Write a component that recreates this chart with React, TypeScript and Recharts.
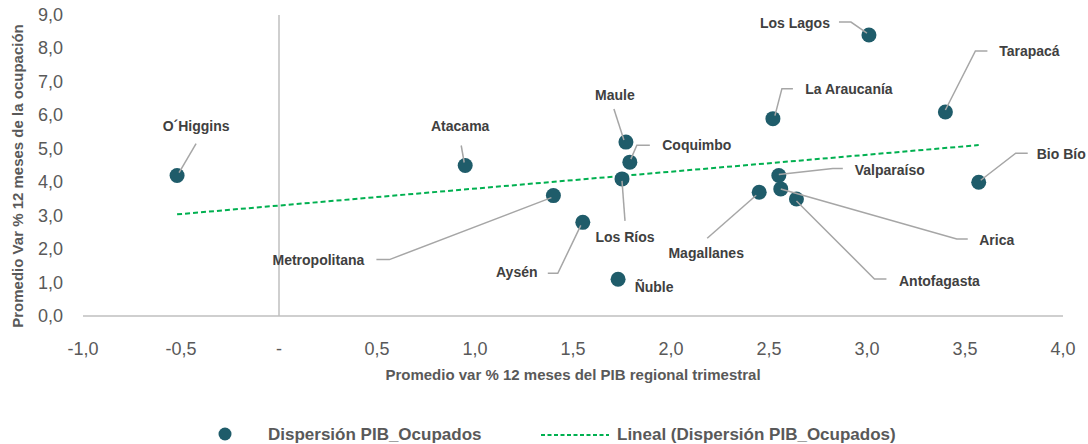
import React from 'react';
import {
  ScatterChart,
  Scatter,
  XAxis,
  YAxis,
  ReferenceLine
} from 'recharts';

// regions and their averages (x: PIB regional, y: ocupación)
const REGIONS = [
  'O´Higgins',
  'Atacama',
  'Metropolitana',
  'Aysén',
  'Maule',
  'Coquimbo',
  'Los Ríos',
  'Ñuble',
  'La Araucanía',
  'Los Lagos',
  'Tarapacá',
  'Bio Bío',
  'Valparaíso',
  'Magallanes',
  'Arica',
  'Antofagasta'
];
const PIB = [-0.52, 0.95, 1.4, 1.55, 1.77, 1.79, 1.75, 1.73, 2.52, 3.01, 3.4, 3.57, 2.55, 2.45, 2.56, 2.64];
const OCUPADOS = [4.2, 4.5, 3.6, 2.8, 5.2, 4.6, 4.1, 1.1, 5.9, 8.4, 6.1, 4.0, 4.2, 3.7, 3.8, 3.5];

const TREND_X = [-0.52, 3.57];
const TREND_Y = [3.04, 5.11];

const X_TICKS = [-1, -0.5, 0, 0.5, 1, 1.5, 2, 2.5, 3, 3.5, 4];
const Y_TICKS = [0, 1, 2, 3, 4, 5, 6, 7, 8, 9];

// label placement relative to the marker, like Excel's moved data labels
const LABEL_LAYOUT: Record<string, { dx: number; dy: number; path: number[][]; anchor?: string }> = {
  'O´Higgins': { dx: 19, dy: -50, path: [[19, -32], [2, -3]] },
  'Atacama': { dx: -5, dy: -40, path: [[-4, -20], [-1, -3]] },
  'Metropolitana': { dx: -235, dy: 64, path: [[-177, 64], [-164, 64], [-2, 2]] },
  'Aysén': { dx: -66, dy: 50, path: [[-35, 51], [-25, 51], [-2, 3]] },
  'Maule': { dx: -11, dy: -47, path: [[-12, -33], [-2, -2]] },
  'Coquimbo': { dx: 67, dy: -17, path: [[20, -17], [7, -17], [1, -3]] },
  'Los Ríos': { dx: 3, dy: 58, path: [[3, 42], [0, 2]] },
  'Ñuble': { dx: 36, dy: 8, path: [] },
  'La Araucanía': { dx: 76, dy: -30, path: [[20, -30], [9, -30], [2, -3]] },
  'Los Lagos': { dx: -74, dy: -12, path: [[-30, -13], [-18, -13], [-2, -2]] },
  'Tarapacá': { dx: 84, dy: -61, path: [[42, -61], [30, -61], [0, -2]] },
  'Bio Bío': { dx: 107, dy: -28, path: [[49, -29], [37, -29], [2, -2]], anchor: 'end' },
  'Valparaíso': { dx: 111, dy: -6, path: [[64, -7], [54, -7], [0, -1]] },
  'Magallanes': { dx: -53, dy: 61, path: [[-52, 46], [-3, 3]] },
  'Arica': { dx: 216, dy: 51, path: [[187, 50], [176, 50], [0, 0]] },
  'Antofagasta': { dx: 143, dy: 82, path: [[90, 80], [78, 80], [0, 2]] }
};

const DOT = '#1F5C6A';
const GREEN = '#00B050';
const AXIS_GRAY = '#BFBFBF';
const TICK_GRAY = '#595959';
const FONT = "'Liberation Sans', Arial, sans-serif";

const points = REGIONS.map((name, i) => ({ name, x: PIB[i], y: OCUPADOS[i] }));
const trend = TREND_X.map((x, i) => ({ x, y: TREND_Y[i] }));

const fmt = (v: number) => v.toFixed(1).replace('.', ',');

const XTick = (props: any) => (
  <text x={props.x} y={349} textAnchor="middle" dominantBaseline="central"
    fontSize={18} fill={TICK_GRAY} fontFamily={FONT}>
    {props.payload.value === 0 ? '-' : fmt(props.payload.value)}
  </text>
);

const YTick = (props: any) => (
  <text x={63} y={props.y} textAnchor="end" dominantBaseline="central"
    fontSize={18} fill={TICK_GRAY} fontFamily={FONT}>
    {fmt(props.payload.value)}
  </text>
);

const Dot = (props: any) => <circle cx={props.cx} cy={props.cy} r={7.5} fill={DOT} />;

const RegionLabel = (props: any) => {
  const { cx, cy, payload } = props;
  const layout = LABEL_LAYOUT[payload.name];
  if (!layout) return <g />;
  const pts = layout.path.map(([dx, dy]) => `${cx + dx},${cy + dy}`).join(' ');
  return (
    <g>
      {layout.path.length > 0 && (
        <polyline points={pts} fill="none" stroke="#A6A6A6" strokeWidth={1.5} />
      )}
      <text x={cx + layout.dx} y={cy + layout.dy} textAnchor={layout.anchor || 'middle'} dominantBaseline="central"
        fontSize={14} fontWeight="bold" fill="#404040" fontFamily={FONT}>
        {payload.name}
      </text>
    </g>
  );
};

const Empty = () => <g />;

const ChartLegend = () => (
  <div style={{ position: 'absolute', top: 424, left: 0, width: 1088, height: 20, fontFamily: FONT }}>
    <svg width={1088} height={20} style={{ position: 'absolute', left: 0, top: 0 }}>
      <circle cx={225} cy={10} r={6.5} fill={DOT} />
      <text x={268} y={10} dominantBaseline="central" fontSize={17} fontWeight="bold" fill={TICK_GRAY}>
        Dispersión PIB_Ocupados
      </text>
      <line x1={541} y1={11} x2={609} y2={11} stroke={GREEN} strokeWidth={2} strokeDasharray="4 2.5" />
      <text x={617} y={10} dominantBaseline="central" fontSize={17} fontWeight="bold" fill={TICK_GRAY}>
        Lineal (Dispersión PIB_Ocupados)
      </text>
    </svg>
  </div>
);

export default function App() {
  return (
    <div style={{ position: 'absolute', left: 0, top: 0, width: 1088, height: 444, background: '#fff' }}>
      <ScatterChart width={1088} height={444} margin={{ top: 15, right: 25, bottom: 0, left: 0 }}>
        <XAxis
          type="number"
          dataKey="x"
          domain={[-1, 4]}
          ticks={X_TICKS}
          interval={0}
          height={128}
          tickLine={false}
          tick={<XTick />}
          axisLine={{ stroke: AXIS_GRAY, strokeWidth: 1.5 }}
          label={() => (
            <text x={573} y={374} textAnchor="middle" dominantBaseline="central"
              fontSize={15} fontWeight="bold" fill={TICK_GRAY} fontFamily={FONT}>
              Promedio var % 12 meses del PIB regional trimestral
            </text>
          )}
        />
        <YAxis
          type="number"
          dataKey="y"
          domain={[0, 9]}
          ticks={Y_TICKS}
          interval={0}
          width={83}
          tickLine={false}
          axisLine={false}
          tick={<YTick />}
          label={() => (
            <text x={17} y={176} transform="rotate(-90 17 176)" textAnchor="middle" dominantBaseline="central"
              fontSize={15} fontWeight="bold" fill={TICK_GRAY} fontFamily={FONT}>
              Promedio Var % 12 meses de la ocupación
            </text>
          )}
        />
        <ReferenceLine x={0} stroke={AXIS_GRAY} strokeWidth={1.5} />
        <Scatter
          name="Lineal (Dispersión PIB_Ocupados)"
          data={trend}
          line={{ stroke: GREEN, strokeWidth: 2, strokeDasharray: '5 3' }}
          shape={<Empty />}
          isAnimationActive={false}
        />
        <Scatter name="Dispersión PIB_Ocupados" data={points} shape={<Dot />} isAnimationActive={false} />
        <Scatter name="labels" data={points} shape={<RegionLabel />} isAnimationActive={false} />
      </ScatterChart>
      <ChartLegend />
    </div>
  );
}
